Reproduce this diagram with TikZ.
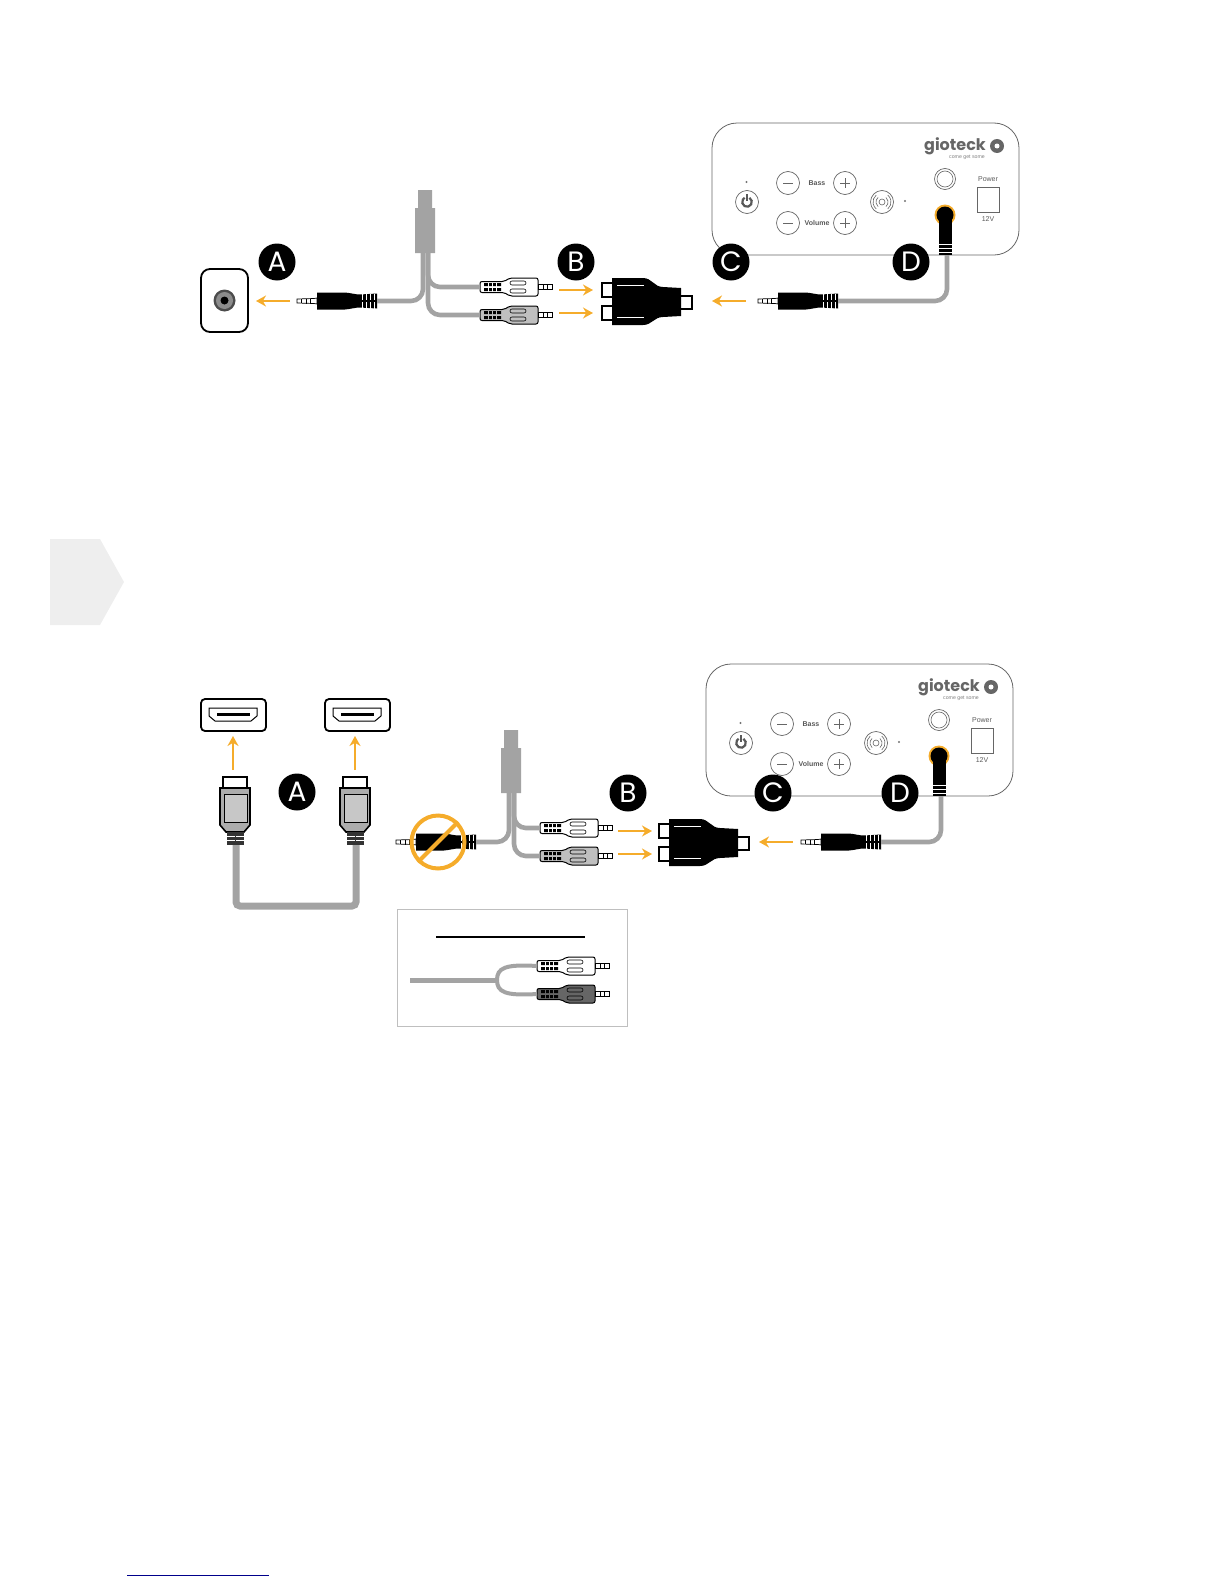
\documentclass[tikz,border=0pt]{standalone}
\usepackage{fontspec}
\setmainfont{Liberation Sans}
\newfontfamily\logofont{Poppins}
\usetikzlibrary{arrows.meta}
\definecolor{tipcolor}{HTML}{F5AC2B}
\definecolor{wirecolor}{HTML}{A3A3A3}
\definecolor{tabcolor}{HTML}{EEEEEE}
\definecolor{linkcolor}{HTML}{00008B}
\tikzset{
	badge/.style={circle,fill=black,text=white,minimum size=18.5pt,inner sep=0pt,font=\logofont\fontsize{14}{14}\selectfont},
	tiparrow/.style={tipcolor,line width=1pt,-{Stealth[length=5pt,width=5.5pt]}},
	wire/.style={wirecolor,line width=2.3pt,rounded corners=6pt},
	panelbutton/.style={draw=black!60,line width=.35pt,fill=white},
	paneltext/.style={inner sep=0pt,text=black!65,font=\fontsize{3.5}{4}\selectfont},
	pics/jackplug/.style={code={
		\draw[line width=.35pt,fill=white] (0,-2) -- (17,-2.5) -- (20,-3) -- (20,3) -- (17,2.5) -- (0,2) -- cycle;
		\draw[line width=.4pt] (4,-2)--(4,2) (9,-2.5)--(9,2.5) (13,-2.5)--(13,2.5);
		\fill (20,-8.5) -- (48,-8.5) .. controls (54,-8) and (58,-6.5) .. (63,-6.5) -- (80,-7.5) -- (80,7.5) -- (63,6.5) .. controls (58,6.5) and (54,8) .. (48,8.5) -- (20,8.5) -- cycle;
		\draw[white,line width=.45pt] (65,-7.5)--(65,-1) (65,1)--(65,7.5) (69,-7.5)--(69,-1) (69,1)--(69,7.5) (73,-7.5)--(73,-1) (73,1)--(73,7.5) (77,-7.5)--(77,-1) (77,1)--(77,7.5);
		\coordinate (-tail) at (80,0);
	}},
	pics/rcaplug/.style={code={
		\draw[line width=.5pt,fill=#1,rounded corners=1pt] (0,-5.5) -- (24,-5.5) -- (30,-9) -- (58,-9) -- (58,9) -- (30,9) -- (24,5.5) -- (0,5.5) -- cycle;
		\fill (4,-4) rectangle (21,-1) (4,1) rectangle (21,4);
		\draw[#1,line width=.4pt] (8,-4.5)--(8,4.5) (12,-4.5)--(12,4.5) (16,-4.5)--(16,4.5);
		\draw[line width=.3pt,rounded corners=1pt] (30,-6) rectangle (46,-2) (30,2) rectangle (46,6);
		\draw[line width=.35pt,fill=white] (58,-2.5) rectangle (72,2.5);
		\draw[line width=.4pt] (63,-2.5)--(63,2.5) (67,-2.5)--(67,2.5);
		\coordinate (-tail) at (0,0);
	}},
	pics/splitblock/.style={code={
		\fill[wirecolor] (3,0) rectangle (17,18) (0,18) rectangle (20,63);
		\coordinate (-left) at (8,63);
		\coordinate (-right) at (13,63);
	}},
	pics/adapterplug/.style={code={
		\draw[line width=.6pt,fill=white] (0,-19) rectangle (11,-5) (0,4) rectangle (11,18);
		\draw[line width=.6pt,fill=white] (78,-6) rectangle (90,7);
		\fill (10,-24) -- (41,-24) .. controls (50,-24) and (52,-15) .. (61,-15) -- (79,-14) -- (79,14) -- (61,15) .. controls (52,15) and (50,23) .. (41,23) -- (10,23) -- cycle;
		\draw[white,line width=.4pt] (15,-17)--(42,-17) (15,15)--(42,15);
	}},
	pics/hdmiport/.style={code={
		\draw[line width=.9pt,rounded corners=2pt] (0,0) rectangle (65,32);
		\draw[line width=.5pt,fill=white] (8,9) -- (56,9) -- (56,17) -- (50,22) -- (14,22) -- (8,17) -- cycle;
		\draw[line width=1.5pt] (16,15) -- (49,15);
	}},
	pics/hdmiplug/.style={code={
		\draw[line width=.7pt,fill=white] (-12,0) rectangle (12,11);
		\draw[line width=.8pt,fill=wirecolor!90] (-15,11) -- (15,11) -- (15,48) -- (9,55) -- (-9,55) -- (-15,48) -- cycle;
		\draw[line width=.4pt,fill=black!22] (-11,17) rectangle (12,45);
		\fill[black!80] (-8,55) rectangle (9,68);
		\draw[white,line width=.4pt] (-8,59)--(9,59) (-8,63)--(9,63);
		\draw[black!80,line width=.5pt] (0,55)--(0,68);
		\coordinate (-tail) at (1,68);
	}},
	pics/controlpanel/.style={code={
		\draw[black!60,line width=.4pt,rounded corners=12.5pt] (0,0) rectangle (307,132);
		\draw[panelbutton] (35,79) circle (11.5);
		\fill[black!55] (34.5,59) circle (1.2);
		\draw[black!65,line width=1.1pt] (37.4,74.8) arc[start angle=60,end angle=-240,radius=2.4pt];
		\draw[black!65,line width=1.1pt] (35,71)--(35,78);
		\draw[panelbutton] (76,60) circle (11.5);
		\draw[black!60,line width=.35pt] (71,60)--(81,60);
		\draw[panelbutton] (133,60) circle (11.5);
		\draw[black!60,line width=.35pt] (128,60)--(138,60) (133,55)--(133,65);
		\draw[panelbutton] (76,100) circle (11.5);
		\draw[black!60,line width=.35pt] (71,100)--(81,100);
		\draw[panelbutton] (133,100) circle (11.5);
		\draw[black!60,line width=.35pt] (128,100)--(138,100) (133,95)--(133,105);
		\node[paneltext,font=\bfseries\fontsize{3.5}{4}\selectfont] (bassText) at (105,60) {Bass};
		\node[paneltext,font=\bfseries\fontsize{3.5}{4}\selectfont] (volumeText) at (105,100) {Volume};
		\draw[panelbutton] (170,79) circle (11.5);
		\draw[black!60,line width=.3pt] (170,79) circle (3);
		\draw[black!60,line width=.3pt] (173.9,83.6) arc[start angle=-50,end angle=50,radius=3pt];
		\draw[black!60,line width=.3pt] (175.8,85.9) arc[start angle=-50,end angle=50,radius=4.5pt];
		\draw[black!60,line width=.3pt] (166.1,74.4) arc[start angle=130,end angle=230,radius=3pt];
		\draw[black!60,line width=.3pt] (164.2,72.1) arc[start angle=130,end angle=230,radius=4.5pt];
		\fill[black!55] (193,78) circle (1.2);
		\draw[panelbutton] (233,56) circle (10.5);
		\draw[black!60,line width=.3pt] (233,56) circle (8);
		\node[paneltext] (powerText) at (276,56) {Power};
		\draw[black!60,line width=.4pt] (265,64) rectangle (287,89);
		\node[paneltext] (voltText) at (276,96) {12V};
		\node[anchor=base,text depth=0pt,inner sep=0pt,text=black!60,font=\logofont\bfseries\fontsize{8}{9}\selectfont] (logoText) at (243,27) {gioteck};
		\node[anchor=north,inner sep=0pt,text=black!50,font=\fontsize{2.6}{3}\selectfont] (logoLine) at (255,32) {come get some};
		\fill[black!60] (285,23) circle (7);
		\fill[white] (285,23) circle (2.5);
		\fill[tipcolor] (233,92) circle (10.5);
		\fill (233,92) circle (8.5);
		\fill (227,92) rectangle (240,132);
		\draw[white,line width=.45pt] (227,121)--(240,121) (227,125)--(240,125) (227,129)--(240,129);
		\coordinate (-tail) at (235,132);
	}}
}
\begin{document}
\begin{tikzpicture}[x=.5pt,y=-.5pt]
	\useasboundingbox (0,0) rectangle (1224,1584);

	\fill[tabcolor] (50,539) -- (100,539) -- (124,582) -- (100,625) -- (50,625) -- cycle;

	\pic (panelA) at (712,123) {controlpanel};
	\node[draw,line width=.9pt,rounded corners=4.5pt,minimum width=23.5pt,minimum height=31.5pt,inner sep=0pt] (socketA) at (224.5,300.5) {};
	\fill[black!70] (socketA.center) circle (11);
	\fill[black!45] (socketA.center) circle (8.5);
	\fill (socketA.center) circle (4);
	\pic (jackA) at (297,301) {jackplug};
	\pic (splitA) at (415,190) {splitblock};
	\pic (rcaAa) at (480,287) {rcaplug=white};
	\pic (rcaAb) at (480,315) {rcaplug=black!25};
	\pic (adapterA) at (602,302) {adapterplug};
	\pic (jackB) at (758,301) {jackplug};

	\coordinate (arrowAa) at (290,301);
	\coordinate (arrowAb) at (256,301);
	\coordinate (arrowBa) at (559,290);
	\coordinate (arrowBb) at (593,290);
	\coordinate (arrowCa) at (559,313);
	\coordinate (arrowCb) at (593,313);
	\coordinate (arrowDa) at (746,301);
	\coordinate (arrowDb) at (712,301);

	\draw[wire] (jackA-tail) -| (splitA-left);
	\draw[wire] (splitA-right) |- (rcaAa-tail);
	\draw[wire] (splitA-right) |- (rcaAb-tail);
	\draw[wire] (jackB-tail) -| (panelA-tail);
	\draw[tiparrow] (arrowAa) -- (arrowAb);
	\draw[tiparrow] (arrowBa) -- (arrowBb);
	\draw[tiparrow,line width=.7pt] (arrowCa) -- (arrowCb);
	\draw[tiparrow] (arrowDa) -- (arrowDb);

	\node[badge] (badgeA) at (277,262) {A};
	\node[badge] (badgeB) at (576,262) {B};
	\node[badge] (badgeC) at (731,262) {C};
	\node[badge] (badgeD) at (911,262) {D};

	\pic (panelB) at (706,664) {controlpanel};
	\pic (portA) at (201,699) {hdmiport};
	\pic (portB) at (325,699) {hdmiport};
	\pic (hdmiA) at (235,777) {hdmiplug};
	\pic (hdmiB) at (355,777) {hdmiplug};
	\coordinate (hdmiLow) at (295,906);
	\pic (jackC) at (396,842) {jackplug};
	\pic (splitB) at (501,730) {splitblock};
	\pic (rcaBa) at (540,828) {rcaplug=white};
	\pic (rcaBb) at (540,856) {rcaplug=black!25};
	\pic (adapterB) at (659,843) {adapterplug};
	\pic (jackD) at (801,842) {jackplug};
	\node[circle,draw=tipcolor,line width=2pt,minimum size=26.5pt,inner sep=0pt] (noJack) at (438,842) {};

	\coordinate (arrowEa) at (233,770);
	\coordinate (arrowEb) at (233,736);
	\coordinate (arrowFa) at (355,770);
	\coordinate (arrowFb) at (355,736);
	\coordinate (arrowGa) at (618,831);
	\coordinate (arrowGb) at (652,831);
	\coordinate (arrowHa) at (618,854);
	\coordinate (arrowHb) at (652,854);
	\coordinate (arrowJa) at (793,842);
	\coordinate (arrowJb) at (759,842);

	\draw[wire,line width=3.5pt,rounded corners=2pt] (hdmiA-tail) |- (hdmiLow) -| (hdmiB-tail);
	\draw[wire] (jackC-tail) -| (splitB-left);
	\draw[wire] (splitB-right) |- (rcaBa-tail);
	\draw[wire] (splitB-right) |- (rcaBb-tail);
	\draw[wire] (jackD-tail) -| (panelB-tail);
	\draw[tipcolor,line width=2pt] (noJack.225) -- (noJack.45);
	\draw[tiparrow] (arrowEa) -- (arrowEb);
	\draw[tiparrow,line width=.7pt] (arrowFa) -- (arrowFb);
	\draw[tiparrow] (arrowGa) -- (arrowGb);
	\draw[tiparrow] (arrowHa) -- (arrowHb);
	\draw[tiparrow] (arrowJa) -- (arrowJb);

	\node[badge] (badgeE) at (297,792) {A};
	\node[badge] (badgeF) at (628,793) {B};
	\node[badge] (badgeG) at (773,793) {C};
	\node[badge] (badgeH) at (900,793) {D};

	\draw[black!25,line width=.5pt] (397,909) rectangle (627,1026);
	\draw[line width=1pt] (436,937) -- (585,937);
	\pic (rcaCa) at (537,966) {rcaplug=white};
	\pic (rcaCb) at (537,994) {rcaplug=black!60};
	\coordinate (leadStart) at (410,980);
	\coordinate (leadFork) at (497,980);
	\draw[wire,line width=2.5pt,rounded corners=0pt] (leadStart) -- (leadFork);
	\draw[wire,line width=2pt,rounded corners=0pt] (leadFork) .. controls (497,968) and (505,964) .. (rcaCa-tail);
	\draw[wire,line width=2pt,rounded corners=0pt] (leadFork) .. controls (497,992) and (505,996) .. (rcaCb-tail);

	\coordinate (linkA) at (127,1575);
	\coordinate (linkB) at (269,1575);
	\draw[linkcolor,line width=.5pt] (linkA) -- (linkB);
\end{tikzpicture}
\end{document}
